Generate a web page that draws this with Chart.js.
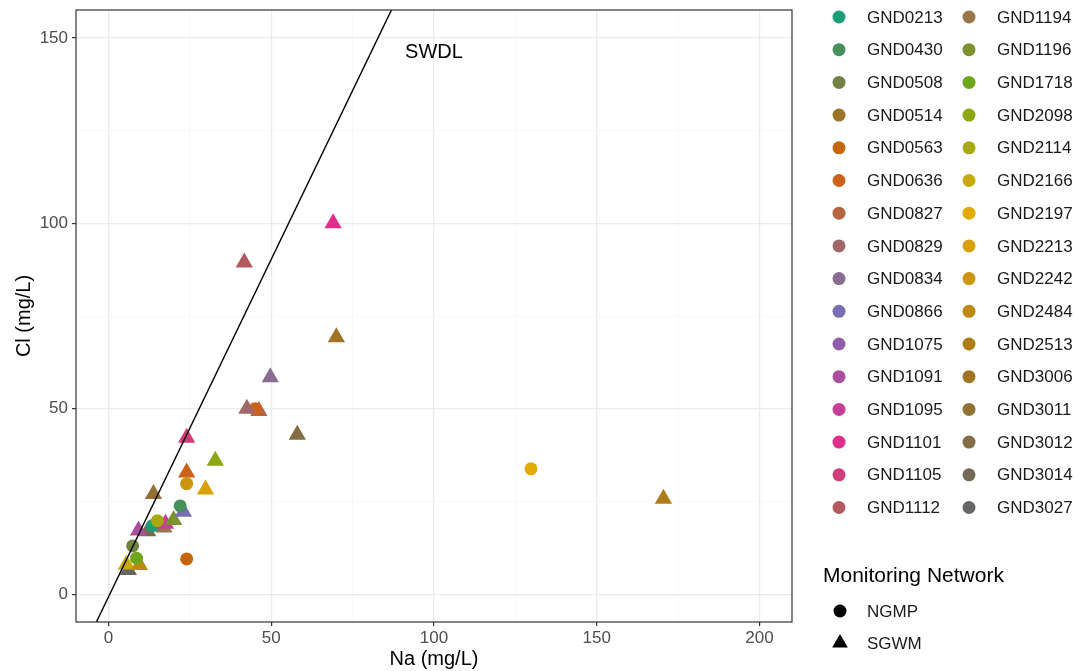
<!DOCTYPE html>
<html>
<head>
<meta charset="utf-8">
<script src="https://cdn.jsdelivr.net/npm/chart.js@4/dist/chart.umd.min.js"></script>
<style>
  html, body { margin: 0; padding: 0; background: #fff; }
  #wrap { width: 1075px; height: 671px; position: relative; }
</style>
</head>
<body>
<div id="wrap"><canvas id="myChart" width="1075" height="671"></canvas></div>
<script>
// wells shown in the colour legend (order = legend order)
const wells = ['GND0213', 'GND0430', 'GND0508', 'GND0514', 'GND0563', 'GND0636', 'GND0827', 'GND0829',
  'GND0834', 'GND0866', 'GND1075', 'GND1091', 'GND1095', 'GND1101', 'GND1105', 'GND1112',
  'GND1194', 'GND1196', 'GND1718', 'GND2098', 'GND2114', 'GND2166', 'GND2197', 'GND2213',
  'GND2242', 'GND2484', 'GND2513', 'GND3006', 'GND3011', 'GND3012', 'GND3014', 'GND3027'];

const networks = ['NGMP', 'SGWM'];

// one entry per sample
const pointWell = ['GND1101', 'GND1112', 'GND3006', 'GND0834', 'GND0829', 'GND0636', 'GND0827',
  'GND3012', 'GND1105', 'GND2098', 'GND0636', 'GND2242', 'GND2213', 'GND3011', 'GND0430',
  'GND0866', 'GND2114', 'GND1196', 'GND1095', 'GND0213', 'GND1091', 'GND3014', 'GND1194',
  'GND0508', 'GND1718', 'GND0563', 'GND2484', 'GND2166', 'GND3027', 'GND2197', 'GND2513'];
const pointNetwork = ['SGWM', 'SGWM', 'SGWM', 'SGWM', 'SGWM', 'NGMP', 'SGWM',
  'SGWM', 'SGWM', 'SGWM', 'SGWM', 'NGMP', 'SGWM', 'SGWM', 'NGMP',
  'SGWM', 'NGMP', 'SGWM', 'SGWM', 'NGMP', 'SGWM', 'SGWM', 'SGWM',
  'NGMP', 'NGMP', 'NGMP', 'SGWM', 'SGWM', 'SGWM', 'NGMP', 'SGWM'];
const naValues = [69, 41.7, 70, 49.7, 42.5, 45, 46.2,
  58, 24, 32.8, 24, 24, 29.8, 13.8, 22,
  23, 15, 20, 17.5, 13.5, 9.2, 12, 17,
  7.4, 8.6, 24, 9.5, 5.5, 6.1, 129.8, 170.5];
const clValues = [100, 89.4, 69.3, 58.5, 50, 50, 49.4,
  43, 42.2, 36, 32.8, 29.8, 28.2, 27, 23.8,
  22.2, 19.8, 20, 19, 18.5, 17.2, 17, 18,
  13, 9.7, 9.5, 7.9, 8, 6.5, 33.8, 25.7];

// seawater dilution line
const swdlX = [-10, 100];
const swdlSlope = 1.82;
const swdlIntercept = -0.7;

const xTicks = [0, 25, 50, 75, 100, 125, 150, 175, 200];
const yTicks = [0, 25, 50, 75, 100, 125, 150];
const majorX = [0, 50, 100, 150, 200];
const majorY = [0, 50, 100, 150];

// colorRampPalette(Dark2)(32)
const dark2 = ['#1B9E77', '#D95F02', '#7570B3', '#E7298A', '#66A61E', '#E6AB02', '#A6761D', '#666666'];
function hexRgb(h) { return [1, 3, 5].map(i => parseInt(h.substr(i, 2), 16)); }
function ramp(n) {
  const out = [];
  for (let i = 0; i < n; i++) {
    const t = i * (dark2.length - 1) / (n - 1);
    const k = Math.min(Math.floor(t), dark2.length - 2);
    const f = t - k;
    const a = hexRgb(dark2[k]), b = hexRgb(dark2[k + 1]);
    const c = a.map((v, j) => Math.round(v + (b[j] - v) * f));
    out.push('rgb(' + c.join(',') + ')');
  }
  return out;
}
const wellColors = ramp(wells.length);
const colorOf = w => wellColors[wells.indexOf(w)];

const FONT = '"Liberation Sans", Arial, sans-serif';
const CIRCLE_R = 6.5, TRI_R = 10;

let datasets = [{
  type: 'line',
  label: 'SWDL',
  data: swdlX.map(x => ({ x: x, y: swdlSlope * x + swdlIntercept })),
  borderColor: '#000',
  borderWidth: 1.4,
  pointRadius: 0,
  order: 0
}];
pointWell.forEach((w, i) => {
  const tri = pointNetwork[i] === 'SGWM';
  datasets.push({
    type: 'scatter',
    label: w,
    data: [{ x: naValues[i], y: clValues[i] }],
    pointStyle: tri ? 'triangle' : 'circle',
    pointRadius: tri ? TRI_R : CIRCLE_R,
    backgroundColor: colorOf(w),
    borderColor: colorOf(w),
    borderWidth: 0,
    order: 1
  });
});

const PLOT = { left: 76, right: 792, top: 6, bottom: 622 };

function isIn(v, list) { return list.indexOf(v) >= 0; }

const decorations = {
  id: 'decorations',
  afterDraw(chart) {
    const ctx = chart.ctx, a = chart.chartArea;
    const xs = chart.scales.x, ys = chart.scales.y;
    ctx.save();
    // panel border
    ctx.strokeStyle = '#333333';
    ctx.lineWidth = 1.2;
    ctx.strokeRect(a.left, a.top, a.right - a.left, a.bottom - a.top);
    // SWDL label
    ctx.fillStyle = '#000';
    ctx.font = '20px ' + FONT;
    ctx.textAlign = 'center';
    ctx.textBaseline = 'middle';
    ctx.fillText('SWDL', xs.getPixelForValue(100), ys.getPixelForValue(146));

    // colour legend (two columns)
    ctx.font = '17px ' + FONT;
    ctx.textAlign = 'left';
    const perCol = 16, rowH = 32.7;
    wells.forEach((w, i) => {
      const col = Math.floor(i / perCol), row = i % perCol;
      const cx = col === 0 ? 839 : 969;
      const cy = 17 + row * rowH;
      ctx.fillStyle = wellColors[i];
      ctx.beginPath();
      ctx.arc(cx, cy, CIRCLE_R, 0, Math.PI * 2);
      ctx.fill();
      ctx.fillStyle = '#1a1a1a';
      ctx.fillText(w, cx + 28, cy + 1);
    });

    // shape legend
    ctx.font = '21px ' + FONT;
    ctx.fillStyle = '#000';
    ctx.fillText('Monitoring Network', 823, 576);
    ctx.font = '17px ' + FONT;
    networks.forEach((n, i) => {
      const cx = 840, cy = 611 + i * 32;
      ctx.fillStyle = '#000';
      ctx.beginPath();
      if (n === 'NGMP') {
        ctx.arc(cx, cy, CIRCLE_R, 0, Math.PI * 2);
      } else {
        ctx.moveTo(cx, cy - TRI_R + 1);
        ctx.lineTo(cx + 0.866 * (TRI_R - 1), cy + (TRI_R - 1) / 2);
        ctx.lineTo(cx - 0.866 * (TRI_R - 1), cy + (TRI_R - 1) / 2);
        ctx.closePath();
      }
      ctx.fill();
      ctx.fillStyle = '#1a1a1a';
      ctx.fillText(n, cx + 27, cy + 1);
    });
    ctx.restore();
  }
};

function gridOpts(majors) {
  return {
    color: c => isIn(c.tick.value, majors) ? '#ebebeb' : '#f5f5f5',
    lineWidth: c => isIn(c.tick.value, majors) ? 1.2 : 0.7,
    tickColor: c => isIn(c.tick.value, majors) ? '#333333' : 'rgba(0,0,0,0)',
    tickLength: 4,
    tickWidth: 1.2,
    drawTicks: true
  };
}

// keep the panel exactly where the reference has it
function noEdgePadding(s) {
  s.paddingTop = 0; s.paddingBottom = 0; s.paddingLeft = 0; s.paddingRight = 0;
}

new Chart(document.getElementById('myChart'), {
  data: { datasets: datasets },
  options: {
    responsive: false,
    animation: false,
    events: [],
    layout: { padding: { left: 0, top: PLOT.top, right: 1075 - PLOT.right, bottom: 0 } },
    plugins: { legend: { display: false }, tooltip: { enabled: false } },
    scales: {
      x: {
        type: 'linear',
        min: -10, max: 210,
        afterBuildTicks: s => { s.ticks = xTicks.map(v => ({ value: v })); },
        afterFit: s => { s.height = 671 - PLOT.bottom; noEdgePadding(s); },
        border: { display: false },
        grid: gridOpts(majorX),
        ticks: {
          autoSkip: false, maxRotation: 0, padding: 2,
          color: '#4d4d4d', font: { family: FONT, size: 17 },
          callback: v => isIn(v, majorX) ? String(v) : ''
        },
        title: { display: true, text: 'Na (mg/L)', color: '#000', font: { family: FONT, size: 20 }, padding: { top: 0, bottom: 0 } }
      },
      y: {
        type: 'linear',
        min: -7.5, max: 157.5,
        afterBuildTicks: s => { s.ticks = yTicks.map(v => ({ value: v })); },
        afterFit: s => { s.width = PLOT.left; noEdgePadding(s); },
        border: { display: false },
        grid: gridOpts(majorY),
        ticks: {
          autoSkip: false, padding: 4,
          color: '#4d4d4d', font: { family: FONT, size: 17 },
          callback: v => isIn(v, majorY) ? String(v) : ''
        },
        title: { display: true, text: 'Cl (mg/L)', color: '#000', font: { family: FONT, size: 20 }, padding: { top: 12 } }
      }
    }
  },
  plugins: [decorations]
});
</script>
</body>
</html>
